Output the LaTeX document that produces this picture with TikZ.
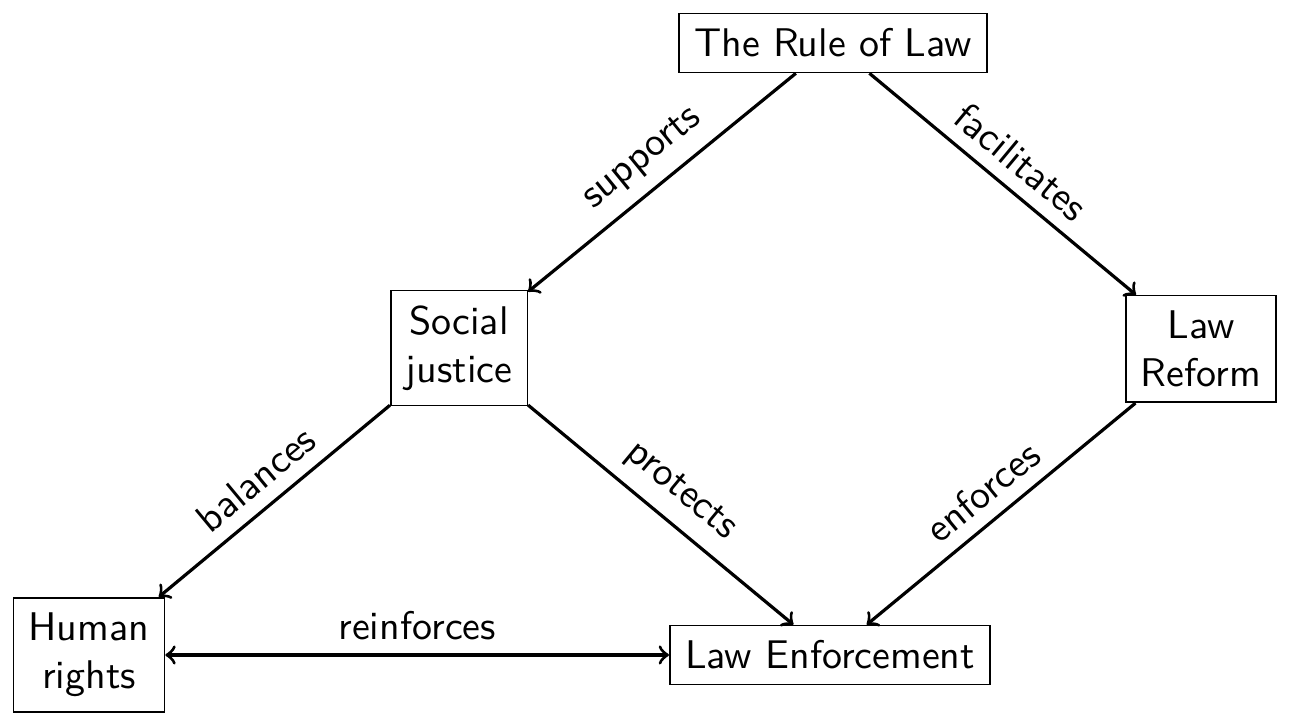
\documentclass[tikz,border=0pt]{standalone}
\renewcommand{\familydefault}{\sfdefault}
\begin{document}
\begin{tikzpicture}[x=0.25pt,y=-0.25pt,
  box/.style={draw, align=center, font=\sffamily, inner sep=3.8pt},
  link/.style={->, thick},
  lbl/.style={midway, above, sloped, font=\sffamily}]
\useasboundingbox (0,0) rectangle (1298,724);
\node[box] (rule) at (833,43) {The Rule of Law};
\node[box] (social) at (459,348) {Social\\justice};
\node[box] (reform) at (1201,349) {Law\\Reform};
\node[box] (human) at (89,655) {Human\\rights};
\node[box] (enf) at (830,655) {Law Enforcement};
\draw[link] (rule) -- node[lbl] {supports} (social);
\draw[link] (rule) -- node[lbl] {facilitates} (reform);
\draw[link] (social) -- node[lbl] {balances} (human);
\draw[link] (social) -- node[lbl] {protects} (enf);
\draw[link] (reform) -- node[lbl] {enforces} (enf);
\draw[<->, thick] (human) -- node[lbl] {reinforces} (enf);
\end{tikzpicture}
\end{document}
